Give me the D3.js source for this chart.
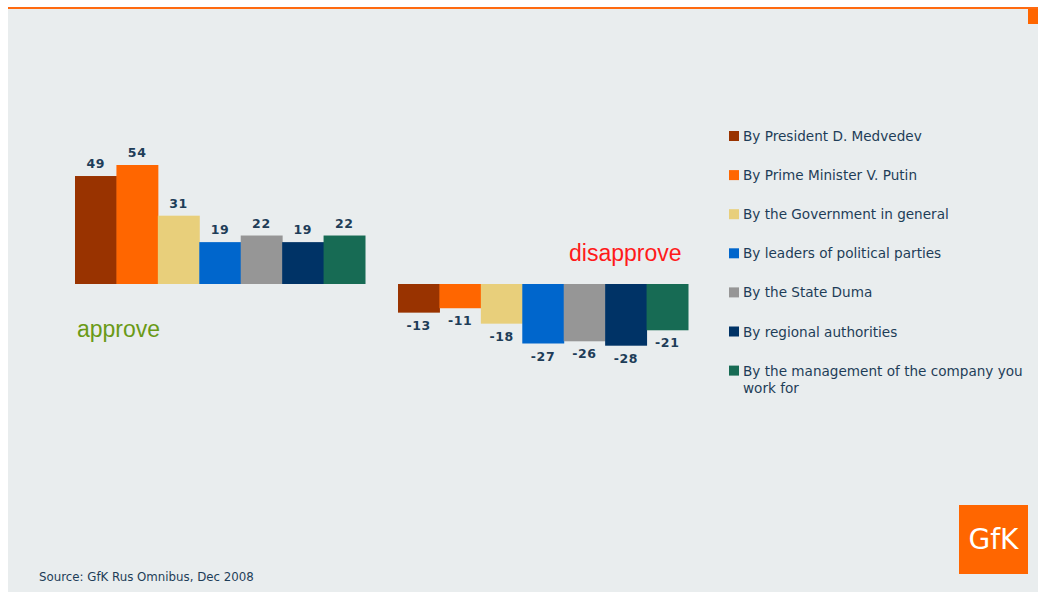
<!DOCTYPE html>
<html>
<head>
<meta charset="utf-8">
<script src="https://cdn.jsdelivr.net/npm/d3@7"></script>
<style>
  html, body { margin: 0; padding: 0; background: #ffffff; }
  svg { display: block; }
</style>
</head>
<body>
<svg id="chart" width="1038" height="592"></svg>
<script>
// Trust in authorities, GfK Rus Omnibus, Dec 2008
const categories = [
  "By President D. Medvedev",
  "By Prime Minister V. Putin",
  "By the Government in general",
  "By leaders of political parties",
  "By the State Duma",
  "By regional authorities",
  "By the management of the company you work for"
];
const approveValues = [49, 54, 31, 19, 22, 19, 22];
const disapproveValues = [-13, -11, -18, -27, -26, -28, -21];
const seriesColors = ["#993300", "#ff6600", "#e8cf7b", "#0066cc", "#969696", "#003366", "#176b54"];
const sourceText = "Source: GfK Rus Omnibus, Dec 2008";

const svg = d3.select("#chart");
const W = 1038, H = 592;
const textColor = "#1e3d58";

// Page background and top rule
svg.append("rect").attr("x", 0).attr("y", 0).attr("width", W).attr("height", H).attr("fill", "#ffffff");
svg.append("rect").attr("x", 8).attr("y", 9).attr("width", W - 8).attr("height", H - 9).attr("fill", "#e9edee");
svg.append("rect").attr("x", 8).attr("y", 7).attr("width", W - 8).attr("height", 2).attr("fill", "#ff6a10");
svg.append("rect").attr("x", 1028).attr("y", 9).attr("width", 10).attr("height", 15).attr("fill", "#ff6600");

// Shared value scale
const baseline = 284;
const y = d3.scaleLinear().domain([0, 54]).range([baseline, baseline - 119]);

// Two groups of bars: approve on the left, disapprove on the right
const xApprove = d3.scaleBand().domain(d3.range(categories.length)).range([75, 365]).padding(0);
const xDisapprove = d3.scaleBand().domain(d3.range(categories.length)).range([398, 688]).padding(0);

function drawGroup(values, x, cls) {
  const g = svg.append("g").attr("class", cls);
  g.selectAll("rect")
    .data(values)
    .join("rect")
    .attr("x", (d, i) => x(i))
    .attr("width", x.bandwidth() + 0.5)
    .attr("y", d => Math.min(y(d), y(0)))
    .attr("height", d => Math.abs(y(d) - y(0)))
    .attr("fill", (d, i) => seriesColors[i]);
  g.selectAll("text")
    .data(values)
    .join("text")
    .attr("x", (d, i) => x(i) + x.bandwidth() / 2)
    .attr("y", d => d >= 0 ? y(d) - 8 : y(d) + 17)
    .attr("text-anchor", "middle")
    .attr("font-family", "DejaVu Sans, sans-serif")
    .attr("font-weight", "bold")
    .attr("font-size", 12.5)
    .attr("letter-spacing", 0.6)
    .attr("fill", textColor)
    .text(d => d);
}
drawGroup(approveValues, xApprove, "approve");
drawGroup(disapproveValues, xDisapprove, "disapprove");

// Group captions
svg.append("text")
  .attr("x", 77).attr("y", 337)
  .attr("font-family", "Liberation Sans, Arial, sans-serif")
  .attr("font-size", 23)
  .attr("fill", "#6a9a16")
  .text("approve");
svg.append("text")
  .attr("x", 569).attr("y", 261)
  .attr("font-family", "Liberation Sans, Arial, sans-serif")
  .attr("font-size", 23)
  .attr("fill", "#ff1a1a")
  .text("disapprove");

// Legend
const legend = svg.append("g").attr("class", "legend");
const rowStep = 39.1;
categories.forEach((c, i) => {
  const top = 131 + i * rowStep;
  legend.append("rect")
    .attr("x", 729).attr("y", top)
    .attr("width", 10).attr("height", 10)
    .attr("fill", seriesColors[i]);
  const lines = c === "By the management of the company you work for"
    ? ["By the management of the company you", "work for"]
    : [c];
  const t = legend.append("text")
    .attr("font-family", "DejaVu Sans, sans-serif")
    .attr("font-size", 13.6)
    .attr("fill", textColor);
  lines.forEach((ln, j) => {
    t.append("tspan").attr("x", 743).attr("y", top + 10 + j * 17.5).text(ln);
  });
});

// Source note
svg.append("text")
  .attr("x", 39).attr("y", 581)
  .attr("font-family", "DejaVu Sans, sans-serif")
  .attr("font-size", 11.8)
  .attr("fill", textColor)
  .text(sourceText);

// GfK logo
svg.append("rect").attr("x", 959).attr("y", 505).attr("width", 69).attr("height", 69).attr("fill", "#ff6600");
svg.append("text")
  .attr("x", 993.5).attr("y", 549)
  .attr("text-anchor", "middle")
  .attr("font-family", "DejaVu Sans, sans-serif")
  .attr("font-size", 28)
  .attr("fill", "#ffffff")
  .text("GfK");
</script>
</body>
</html>
